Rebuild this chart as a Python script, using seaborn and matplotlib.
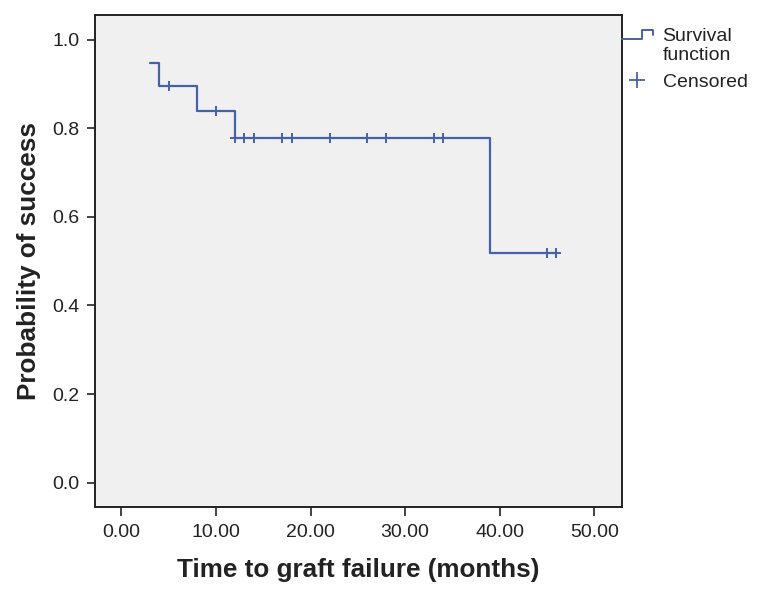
import numpy as np
import pandas as pd
import matplotlib
matplotlib.use("Agg")
import matplotlib.pyplot as plt
import seaborn as sns
from matplotlib.lines import Line2D
from matplotlib.legend_handler import HandlerBase

# Kaplan-Meier step values
step_times = [3, 4, 8, 12, 39, 46]
step_surv = [0.947, 0.895, 0.839, 0.779, 0.519, 0.519]

# censored observations
cens_times = [5, 10, 12, 13, 14, 17, 18, 22, 26, 28, 33, 34, 45, 46]
cens_surv = [0.895, 0.839, 0.779, 0.779, 0.779, 0.779, 0.779, 0.779,
             0.779, 0.779, 0.779, 0.779, 0.519, 0.519]

x_ticks = [0, 10, 20, 30, 40, 50]
y_ticks = [0.0, 0.2, 0.4, 0.6, 0.8, 1.0]

LINE = '#4561a9'
DARK = '#222222'

sns.set_style('white')
plt.rcParams['font.family'] = ['Liberation Sans', 'DejaVu Sans']


class StepHandler(HandlerBase):
    """little step icon for the survival function legend entry"""
    def create_artists(self, legend, orig_handle, xdescent, ydescent,
                       width, height, fontsize, trans):
        w, h = width, height
        xs = [-xdescent, 0.65 * w, 0.65 * w, w, w]
        ys = [1.0 * h, 1.0 * h, 1.62 * h, 1.62 * h, 1.25 * h]
        line = Line2D(xs, ys, color=LINE, lw=1.4, transform=trans)
        return [line]


fig = plt.figure(figsize=(7.6, 5.96), dpi=100)
ax = fig.add_axes([0.125, 0.150, 0.693, 0.825])
ax.set_facecolor('#f0f0f0')

df_step = pd.DataFrame({'time': step_times, 'surv': step_surv})
df_cens = pd.DataFrame({'time': cens_times, 'surv': cens_surv})

sns.lineplot(data=df_step, x='time', y='surv', ax=ax, color=LINE,
             lw=1.6, drawstyle='steps-post', estimator=None, sort=False)
sns.scatterplot(data=df_cens, x='time', y='surv', ax=ax, marker='+',
                color=LINE, s=60, linewidth=1.4, zorder=3)

ax.set_xlim(-2.8, 52.9)
ax.set_ylim(-0.054, 1.056)
ax.set_xticks(x_ticks)
ax.set_xticklabels([f'{v:.2f}' for v in x_ticks])
ax.set_yticks(y_ticks)
ax.set_yticklabels([f'{v:.1f}' for v in y_ticks])
ax.tick_params(axis='both', direction='out', length=6, width=1.2,
               color=DARK, labelsize=14, labelcolor=DARK, pad=5,
               bottom=True, left=True)
ax.tick_params(axis='x', length=6.5, pad=6)

for sp in ax.spines.values():
    sp.set_color(DARK)
    sp.set_linewidth(1.4)

ax.set_xlabel('Time to graft failure (months)', fontsize=18.8,
              fontweight='bold', color=DARK, labelpad=12)
ax.set_ylabel('Probability of success', fontsize=18.8,
              fontweight='bold', color=DARK, labelpad=8)

surv_handle = Line2D([], [], color=LINE)
cens_handle = Line2D([], [], color=LINE, marker='+', linestyle='none',
                     markersize=12, markeredgewidth=1.3)
leg = ax.legend([surv_handle, cens_handle], ['Survival\nfunction', 'Censored'],
                handler_map={surv_handle: StepHandler()},
                loc='upper left', bbox_to_anchor=(1.0, 0.974),
                frameon=False, fontsize=14, handlelength=1.6,
                handletextpad=0.5, borderaxespad=0.0, borderpad=0.0,
                labelspacing=0.45, labelcolor=DARK)

fig.savefig('out.png', dpi=100, facecolor='white')
